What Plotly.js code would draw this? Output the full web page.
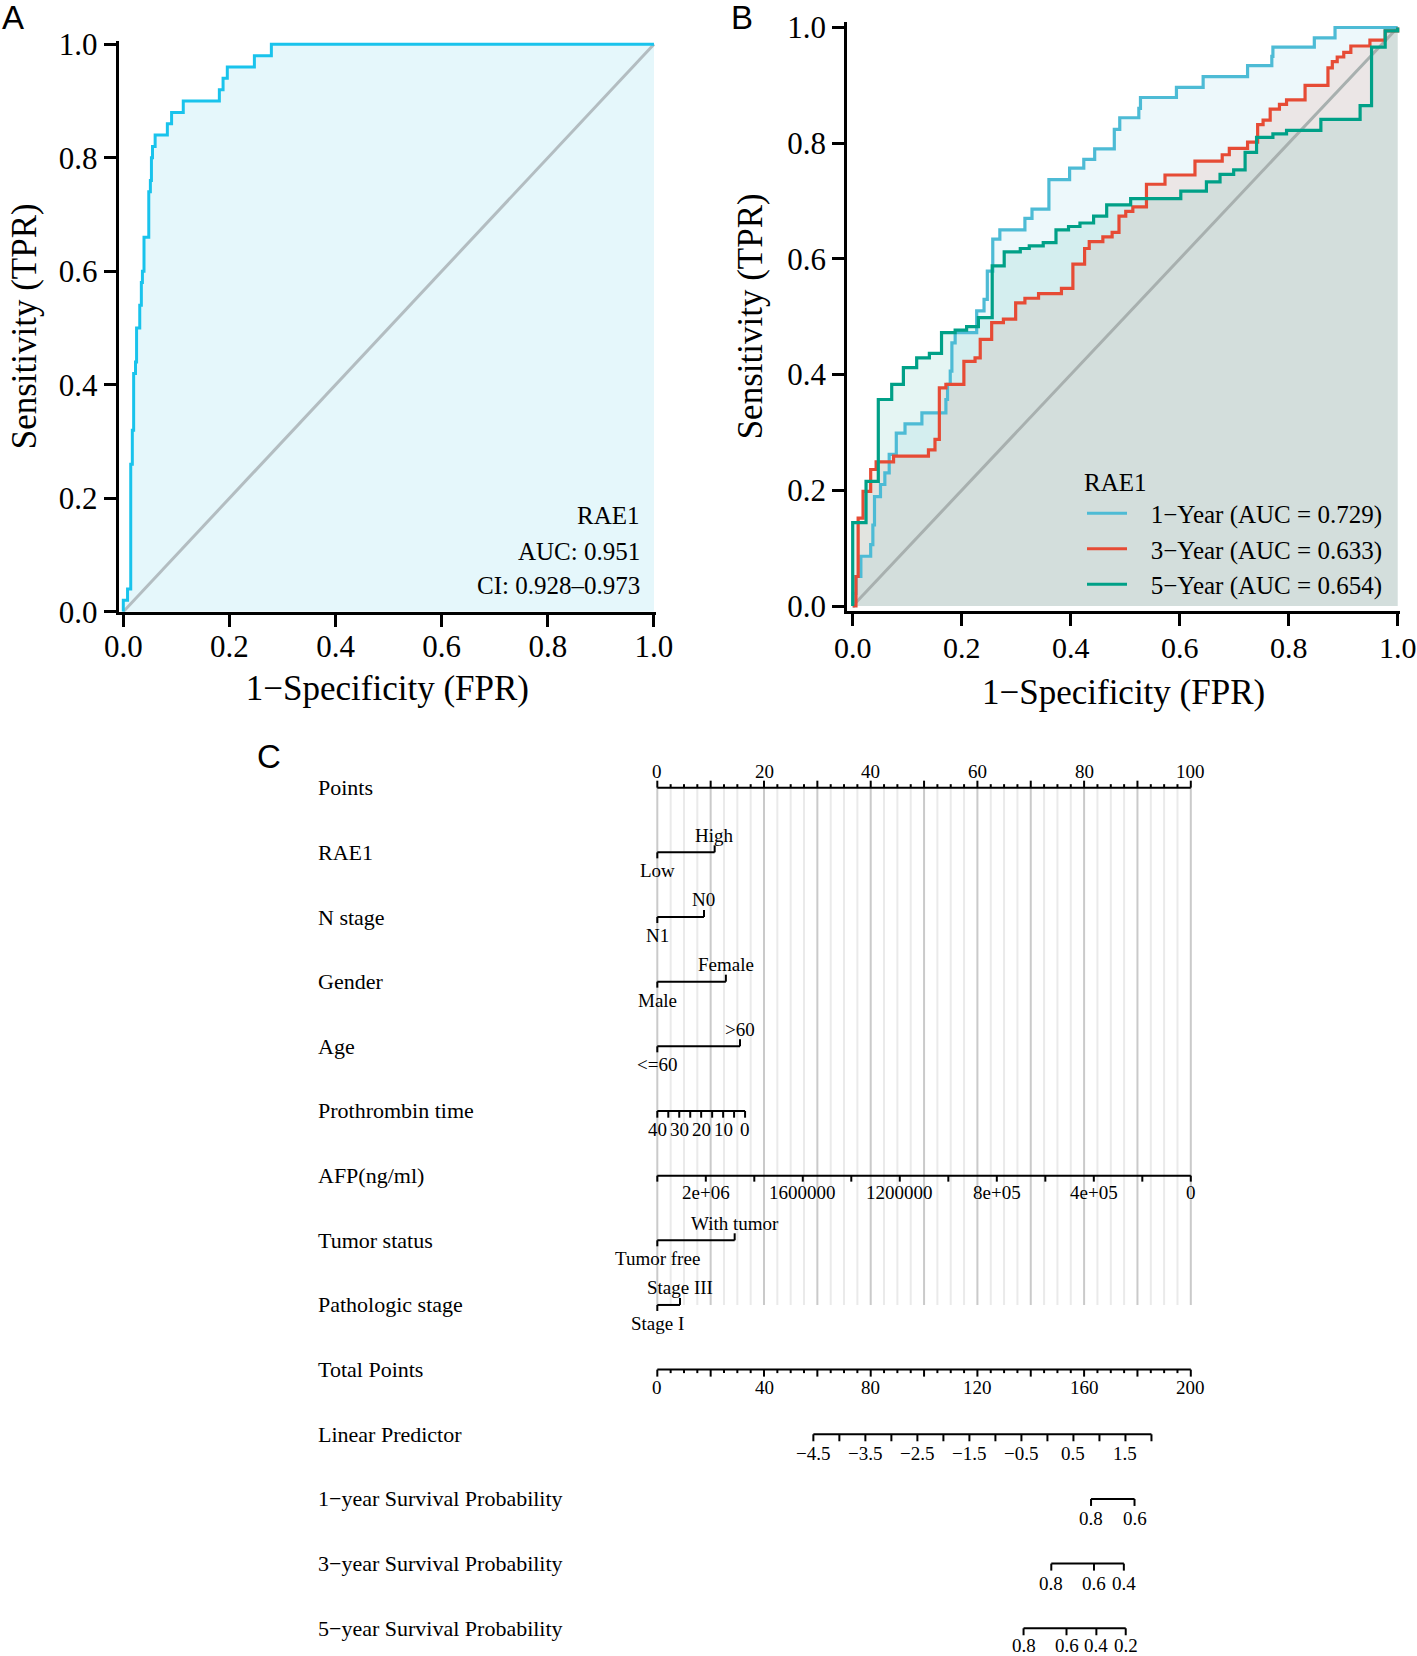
<!DOCTYPE html>
<html><head><meta charset="utf-8">
<script src="https://cdn.plot.ly/plotly-3.0.1.min.js"></script>
<style>html,body{margin:0;padding:0;background:#fff}#chart{width:1417px;height:1656px}</style>
</head><body><div id="chart"></div>
<script>
// ---------------- Panel A : ROC of RAE1 ----------------
const rocA_fpr = [0, 0, 0.008, 0.014, 0.017, 0.0195, 0.023, 0.025, 0.031, 0.034, 0.036, 0.039, 0.048, 0.051, 0.053, 0.055, 0.060, 0.083, 0.091, 0.113, 0.181, 0.188, 0.196, 0.247, 0.279, 1.0];
const rocA_tpr = [0, 0.02, 0.04, 0.26, 0.32, 0.42, 0.44, 0.50, 0.54, 0.58, 0.60, 0.66, 0.74, 0.76, 0.80, 0.82, 0.84, 0.86, 0.88, 0.90, 0.92, 0.94, 0.96, 0.98, 1.0, 1.0];
const rocA_text = ['RAE1', 'AUC: 0.951', 'CI: 0.928–0.973'];

// ---------------- Panel B : time-dependent ROC ----------------
const year1_fpr = [0, 0.001, 0.006, 0.015, 0.033, 0.037, 0.040, 0.051, 0.059, 0.067, 0.080, 0.096, 0.127, 0.171, 0.174, 0.179, 0.182, 0.188, 0.2275, 0.241, 0.247, 0.257, 0.270, 0.316, 0.329, 0.360, 0.398, 0.424, 0.444, 0.480, 0.490, 0.525, 0.528, 0.594, 0.643, 0.7245, 0.769, 0.771, 0.847, 0.885, 1.0];
const year1_tpr = [0, 0.022, 0.051, 0.086, 0.106, 0.140, 0.189, 0.210, 0.230, 0.262, 0.299, 0.315, 0.334, 0.357, 0.383, 0.406, 0.455, 0.4725, 0.510, 0.530, 0.579, 0.634, 0.650, 0.670, 0.686, 0.737, 0.757, 0.772, 0.790, 0.824, 0.844, 0.860, 0.879, 0.8965, 0.915, 0.934, 0.950, 0.966, 0.982, 1.0, 1.0];
const year3_fpr = [0, 0.006, 0.010, 0.019, 0.033, 0.043, 0.075, 0.139, 0.151, 0.159, 0.171, 0.204, 0.2245, 0.234, 0.255, 0.2765, 0.299, 0.316, 0.341, 0.383, 0.404, 0.4255, 0.434, 0.459, 0.476, 0.4886, 0.501, 0.514, 0.539, 0.573, 0.628, 0.678, 0.691, 0.7245, 0.743, 0.753, 0.766, 0.783, 0.796, 0.830, 0.872, 0.880, 0.889, 0.901, 0.914, 0.949, 0.977, 1.0];
const year3_tpr = [0, 0.051, 0.152, 0.198, 0.236, 0.249, 0.259, 0.270, 0.288, 0.377, 0.383, 0.423, 0.429, 0.461, 0.490, 0.496, 0.524, 0.532, 0.540, 0.549, 0.591, 0.618, 0.630, 0.638, 0.646, 0.674, 0.682, 0.690, 0.729, 0.745, 0.769, 0.780, 0.791, 0.802, 0.832, 0.840, 0.859, 0.867, 0.875, 0.900, 0.930, 0.941, 0.949, 0.957, 0.968, 0.978, 0.994, 1.0];
const year5_fpr = [0, 0.000, 0.0245, 0.047, 0.0716, 0.093, 0.1174, 0.1407, 0.163, 0.188, 0.209, 0.2306, 0.256, 0.278, 0.3075, 0.324, 0.3496, 0.373, 0.396, 0.417, 0.442, 0.466, 0.510, 0.602, 0.649, 0.674, 0.699, 0.720, 0.741, 0.771, 0.796, 0.859, 0.931, 0.952, 0.977, 1.0];
const year5_tpr = [0, 0.144, 0.2155, 0.357, 0.383, 0.412, 0.429, 0.4367, 0.4725, 0.477, 0.483, 0.4986, 0.588, 0.612, 0.618, 0.6224, 0.628, 0.650, 0.656, 0.662, 0.674, 0.6935, 0.704, 0.717, 0.733, 0.746, 0.754, 0.784, 0.810, 0.816, 0.822, 0.841, 0.865, 0.966, 0.994, 1.0];
const rocB_names = ['1−Year (AUC = 0.729)', '3−Year (AUC = 0.633)', '5−Year (AUC = 0.654)'];
const rocB_colors = ['#4DBBD5', '#E64B35', '#00A087'];
const rocB_fills = ['rgba(77,187,213,0.10)', 'rgba(230,75,53,0.10)', 'rgba(0,160,135,0.10)'];
const rocB_legendTitle = 'RAE1';

// ---------------- Panel C : nomogram ----------------
const nomoRowLabels = ['Points', 'RAE1', 'N stage', 'Gender', 'Age', 'Prothrombin time', 'AFP(ng/ml)', 'Tumor status', 'Pathologic stage', 'Total Points', 'Linear Predictor', '1−year Survival Probability', '3−year Survival Probability', '5−year Survival Probability'];
const categoricalRows = [
  {row: 1, levels: ['Low', 'High'], points: [0, 10.75]},
  {row: 2, levels: ['N1', 'N0'], points: [0, 8.75]},
  {row: 3, levels: ['Male', 'Female'], points: [0, 12.85]},
  {row: 4, levels: ['<=60', '>60'], points: [0, 15.5]},
  {row: 7, levels: ['Tumor free', 'With tumor'], points: [0, 14.5]},
  {row: 8, levels: ['Stage I', 'Stage III'], points: [0, 4.25]}
];
const ptTickValues = [40, 35, 30, 25, 20, 15, 10, 5, 0];
const ptTickPoints = [0, 2.06, 4.11, 6.17, 8.22, 10.28, 12.34, 14.39, 16.45];
const ptTickLabels = ['40', '', '30', '', '20', '', '10', '', '0'];
const afpTickValues = [2200000, 2000000, 1800000, 1600000, 1400000, 1200000, 1000000, 800000, 600000, 400000, 200000, 0];
const afpTickPoints = [0, 9.09, 18.18, 27.27, 36.36, 45.45, 54.55, 63.64, 72.73, 81.82, 90.91, 100];
const afpTickLabels = ['', '2e+06', '', '1600000', '', '1200000', '', '8e+05', '', '4e+05', '', '0'];
const lpValues = [-4.5, -4.0, -3.5, -3.0, -2.5, -2.0, -1.5, -1.0, -0.5, 0.0, 0.5, 1.0, 1.5, 2.0];
const lpTotalPoints = [58.5, 68.25, 78.0, 87.75, 97.5, 107.25, 117.0, 126.75, 136.5, 146.25, 156.0, 165.75, 175.5, 185.25];
const lpLabels = ['−4.5', '', '−3.5', '', '−2.5', '', '−1.5', '', '−0.5', '', '0.5', '', '1.5', ''];
const surv1Values = [0.8, 0.6], surv1Total = [162.6, 178.9];
const surv3Values = [0.8, 0.6, 0.4], surv3Total = [147.7, 163.7, 174.9];
const surv5Values = [0.8, 0.6, 0.4, 0.2], surv5Total = [137.3, 153.4, 164.6, 175.6];

// ---------------- drawing ----------------
const FONT = 'Liberation Serif, Times New Roman, serif';
const traces = [];
const annotations = [];

// Panel A
traces.push({x: rocA_fpr, y: rocA_tpr, xaxis: 'x', yaxis: 'y', mode: 'lines', line: {shape: 'hv', width: 0, color: '#19C3EC'}, fill: 'tozeroy', fillcolor: '#E5F7FB', showlegend: false, hoverinfo: 'skip'});
traces.push({x: [0, 1], y: [0, 1], xaxis: 'x', yaxis: 'y', mode: 'lines', line: {color: '#B3BDC1', width: 3}, showlegend: false});
traces.push({x: rocA_fpr, y: rocA_tpr, xaxis: 'x', yaxis: 'y', mode: 'lines', line: {shape: 'hv', width: 3, color: '#19C3EC'}, showlegend: false});
rocA_text.forEach((t, i) => annotations.push({xref: 'x', yref: 'y', x: 0.977, y: [0.1687, 0.1069, 0.0469][i], text: t, showarrow: false, xanchor: 'right', yanchor: 'middle', font: {family: FONT, size: 25, color: '#000'}}));

// Panel B
const bF = [year1_fpr, year3_fpr, year5_fpr], bT = [year1_tpr, year3_tpr, year5_tpr];
for (let k = 0; k < 3; k++) traces.push({x: bF[k], y: bT[k], xaxis: 'x2', yaxis: 'y2', mode: 'lines', line: {shape: 'hv', width: 0, color: rocB_colors[k]}, fill: 'tozeroy', fillcolor: rocB_fills[k], showlegend: false, hoverinfo: 'skip'});
traces.push({x: [0, 1], y: [0, 1], xaxis: 'x2', yaxis: 'y2', mode: 'lines', line: {color: '#A8B0AF', width: 3}, showlegend: false});
for (let k = 0; k < 3; k++) traces.push({x: bF[k], y: bT[k], xaxis: 'x2', yaxis: 'y2', mode: 'lines', name: '\u00a0\u00a0\u00a0' + rocB_names[k], line: {shape: 'hv', width: 3.2, color: rocB_colors[k]}, showlegend: true});

// Panel C nomogram helpers (x in "points" units, y in row units)
const ROWPX = 64.66;
const u = p => p / ROWPX;
const blk = {x: [], y: []}, gMaj = {x: [], y: []}, gMin = {x: [], y: []};
function seg(o, x1, y1, x2, y2) { o.x.push(x1, x2, null); o.y.push(y1, y2, null); }
function lab(x, row, text, shiftPx, size) {
  annotations.push({xref: 'x3', yref: 'y3', x: x, y: row, text: text, showarrow: false, xanchor: 'center', yanchor: 'middle', yshift: shiftPx, font: {family: FONT, size: size || 19, color: '#000'}});
}
// row labels
nomoRowLabels.forEach((t, i) => annotations.push({xref: 'x3', yref: 'y3', x: -64.05, y: i, text: t, showarrow: false, xanchor: 'left', yanchor: 'middle', font: {family: FONT, size: 22, color: '#000'}}));
// Points axis + grid
seg(blk, 0, 0, 100, 0);
for (let p = 0; p <= 100.001; p += 2.5) {
  const major = Math.abs(p % 10) < 1e-6;
  seg(blk, p, 0, p, -u(major ? 7 : 3.5));
  seg(major ? gMaj : gMin, p, 0, p, 8);
  if (Math.abs(p % 20) < 1e-6) lab(p, 0, String(p), 16);
}
// categorical rows
categoricalRows.forEach(c => {
  const [p0, p1] = c.points;
  seg(blk, p0, c.row, p1, c.row);
  seg(blk, p0, c.row, p0, c.row + u(6));
  seg(blk, p1, c.row, p1, c.row - u(7));
  lab(p0, c.row, c.levels[0], -18.4);
  lab(p1, c.row, c.levels[1], 17.3);
});
// Prothrombin time
seg(blk, ptTickPoints[0], 5, ptTickPoints[ptTickPoints.length - 1], 5);
ptTickPoints.forEach((p, i) => { seg(blk, p, 5, p, 5 + u(6.7)); if (ptTickLabels[i]) lab(p, 5, ptTickLabels[i], -19); });
// AFP
seg(blk, afpTickPoints[0], 6, afpTickPoints[afpTickPoints.length - 1], 6);
afpTickPoints.forEach((p, i) => { seg(blk, p, 6, p, 6 + u(6)); if (afpTickLabels[i]) lab(p, 6, afpTickLabels[i], -17); });
// Total points (0-200 mapped onto 0-100 points)
seg(blk, 0, 9, 100, 9);
for (let t = 0; t <= 200.001; t += 5) {
  const major = Math.abs(t % 20) < 1e-6;
  seg(blk, t / 2, 9, t / 2, 9 + u(major ? 7 : 3.5));
  if (Math.abs(t % 40) < 1e-6) lab(t / 2, 9, String(t), -18);
}
// Linear predictor
seg(blk, lpTotalPoints[0] / 2, 10, lpTotalPoints[lpTotalPoints.length - 1] / 2, 10);
lpTotalPoints.forEach((t, i) => { seg(blk, t / 2, 10, t / 2, 10 + u(7)); if (lpLabels[i]) lab(t / 2, 10, lpLabels[i], -19); });
// Survival axes
[[surv1Values, surv1Total, 11], [surv3Values, surv3Total, 12], [surv5Values, surv5Total, 13]].forEach(([vals, tot, row]) => {
  seg(blk, tot[0] / 2, row, tot[tot.length - 1] / 2, row);
  tot.forEach((t, i) => { seg(blk, t / 2, row, t / 2, row + u(7)); lab(t / 2, row, vals[i].toFixed(1), row === 13 ? -17 : -19.5); });
});
traces.push({x: gMin.x, y: gMin.y, xaxis: 'x3', yaxis: 'y3', mode: 'lines', line: {color: '#EAEAEA', width: 2}, showlegend: false, hoverinfo: 'skip'});
traces.push({x: gMaj.x, y: gMaj.y, xaxis: 'x3', yaxis: 'y3', mode: 'lines', line: {color: '#CACACA', width: 2}, showlegend: false, hoverinfo: 'skip'});
traces.push({x: blk.x, y: blk.y, xaxis: 'x3', yaxis: 'y3', mode: 'lines', line: {color: '#000', width: 2}, showlegend: false, hoverinfo: 'skip'});

// panel letters
[['A', 13, 17], ['B', 742, 17], ['C', 269, 756]].forEach(([t, px, py]) => annotations.push({xref: 'paper', yref: 'paper', x: px / 1417, y: 1 - py / 1656, text: t, showarrow: false, xanchor: 'center', yanchor: 'middle', font: {family: 'Liberation Sans, Arial, sans-serif', size: 33, color: '#000'}}));

const axisCommon = {showline: true, linecolor: '#000', linewidth: 3, ticks: 'outside', ticklen: 12, tickwidth: 3, tickcolor: '#000', showgrid: false, zeroline: false, tickvals: [0, 0.2, 0.4, 0.6, 0.8, 1.0], tickformat: '.1f', tickfont: {family: FONT, size: 31, color: '#000'}, fixedrange: true};
const tFont = {family: FONT, size: 35, color: '#000'};

const layout = {
  width: 1417, height: 1656, margin: {l: 0, r: 0, t: 0, b: 0},
  paper_bgcolor: '#fff', plot_bgcolor: 'rgba(0,0,0,0)',
  font: {family: FONT, color: '#000'},
  showlegend: true,
  legend: {x: 1082 / 1417, xanchor: 'left', y: 1 - 458 / 1656, yanchor: 'top', bgcolor: 'rgba(0,0,0,0)', font: {family: FONT, size: 25, color: '#000'}, title: {text: rocB_legendTitle, font: {family: FONT, size: 25, color: '#000'}}, itemwidth: 40, tracegroupgap: 0},
  xaxis: Object.assign({}, axisCommon, {domain: [0.08377, 0.46302], range: [-0.00867, 1.004], anchor: 'y', ticklabelstandoff: -7, title: {text: '1−Specificity (FPR)', font: tFont, standoff: 13}}),
  yaxis: Object.assign({}, axisCommon, {domain: [0.63062, 0.97530], range: [0, 1.006], anchor: 'x', title: {text: 'Sensitivity (TPR)', font: tFont, standoff: 12}}),
  xaxis2: Object.assign({}, axisCommon, {domain: [0.59795, 0.98793], range: [-0.0099, 1.004], anchor: 'y2', ticklabelstandoff: -4, tickfont: {family: FONT, size: 30, color: '#000'}, title: {text: '1−Specificity (FPR)', font: tFont, standoff: 17}}),
  yaxis2: Object.assign({}, axisCommon, {domain: [0.63104, 0.98690], range: [-0.0086, 1.01], anchor: 'x2', title: {text: 'Sensitivity (TPR)', font: tFont, standoff: 15}}),
  xaxis3: {domain: [0, 1], range: [-123.21, 142.40], anchor: 'y3', visible: false, fixedrange: true},
  yaxis3: {domain: [0, 1], range: [13.429, -12.182], anchor: 'x3', visible: false, fixedrange: true},
  annotations: annotations
};
Plotly.newPlot('chart', traces, layout, {staticPlot: true});
</script></body></html>
